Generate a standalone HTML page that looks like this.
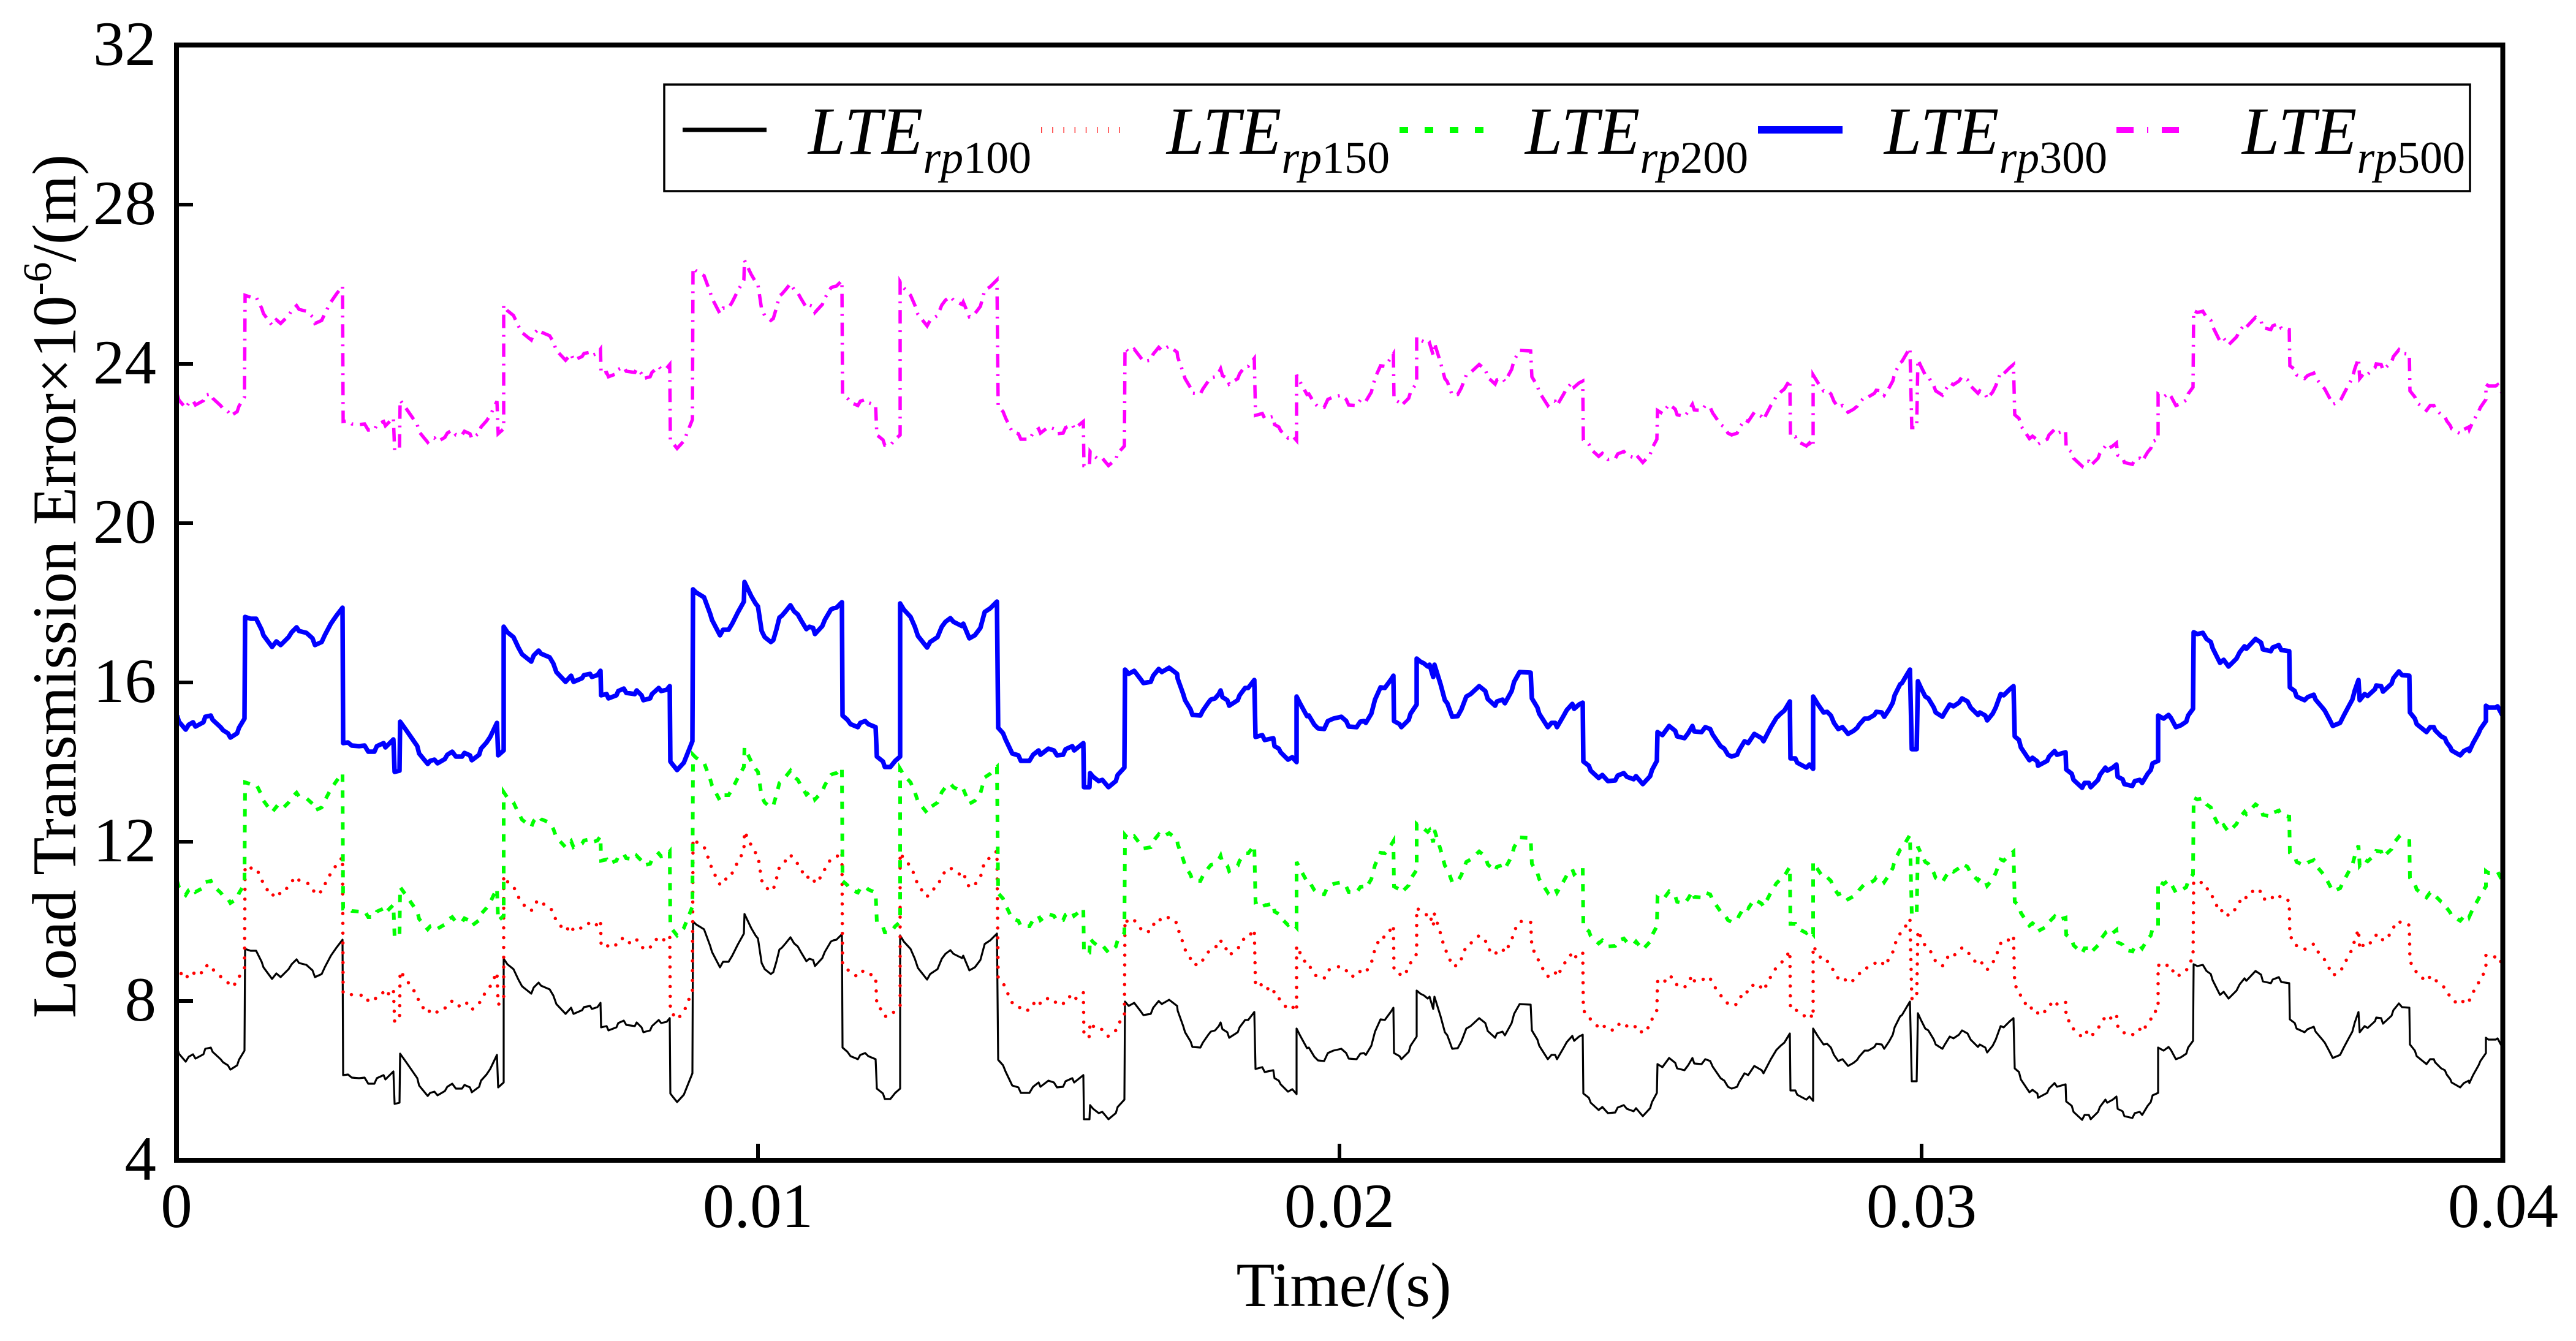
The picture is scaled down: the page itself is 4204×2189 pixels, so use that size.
<!DOCTYPE html>
<html>
<head>
<meta charset="utf-8">
<style>
html,body{margin:0;padding:0;background:#fff;}
svg{display:block;}
text{font-family:"Liberation Serif","Times New Roman",serif;fill:#000;}
</style>
</head>
<body>
<svg width="4204" height="2189" viewBox="0 0 4204 2189" xmlns="http://www.w3.org/2000/svg">
<rect x="0" y="0" width="4204" height="2189" fill="#fff"/>
<defs>
<polyline id="c" fill="none" points="289,1168 292,1178 303,1191 308,1183 315,1179 319,1186 332,1179 335,1170 344,1168 347,1175 360,1187 364,1192 372,1197 376,1204 387,1197 390,1188 399,1173 400,1007 409,1010 418,1010 427,1028 430,1037 444,1056 451,1047 458,1053 471,1040 476,1032 484,1024 488,1030 500,1033 510,1042 514,1053 525,1048 530,1037 540,1018 549,1005 559,992 560,1213 568,1212 574,1217 586,1218 595,1217 601,1227 611,1227 615,1218 626,1213 629,1220 642,1207 644,1260 652,1258 653,1178 663,1192 672,1205 681,1218 684,1230 698,1247 702,1242 709,1240 714,1246 726,1239 730,1232 738,1227 744,1235 754,1235 758,1229 767,1233 770,1241 782,1232 785,1222 794,1212 800,1203 811,1180 813,1233 822,1225 822,1023 828,1032 838,1040 846,1057 852,1068 867,1080 871,1070 879,1062 883,1067 897,1073 903,1083 908,1097 923,1113 932,1103 936,1113 950,1107 953,1102 963,1100 966,1105 975,1102 980,1095 981,1135 990,1133 993,1140 1006,1135 1009,1128 1018,1124 1022,1131 1036,1133 1039,1127 1047,1135 1050,1143 1061,1140 1064,1133 1075,1123 1079,1128 1088,1126 1093,1120 1094,1243 1097,1247 1105,1257 1116,1245 1120,1235 1130,1210 1131,962 1136,967 1149,975 1159,1002 1162,1012 1175,1037 1180,1028 1189,1028 1195,1018 1204,1000 1214,982 1215,950 1226,973 1233,985 1237,990 1243,1030 1248,1040 1258,1048 1262,1045 1267,1028 1272,1008 1276,1005 1282,998 1290,988 1296,998 1302,1003 1307,1012 1316,1027 1321,1023 1327,1025 1330,1035 1342,1022 1346,1012 1356,995 1360,993 1365,992 1374,983 1375,1168 1383,1175 1388,1182 1400,1187 1404,1180 1412,1177 1417,1182 1429,1187 1431,1235 1441,1243 1444,1252 1453,1252 1461,1242 1469,1235 1469,985 1475,995 1486,1007 1493,1023 1498,1038 1513,1057 1518,1048 1530,1040 1537,1023 1543,1015 1551,1009 1556,1015 1570,1022 1572,1018 1582,1042 1591,1037 1600,1025 1607,999 1616,993 1627,982 1629,1188 1637,1197 1641,1207 1652,1230 1662,1233 1666,1242 1680,1242 1686,1232 1695,1225 1698,1232 1711,1222 1720,1225 1725,1233 1735,1232 1739,1223 1750,1218 1753,1225 1768,1213 1769,1285 1778,1285 1779,1262 1784,1268 1793,1275 1799,1273 1809,1285 1821,1275 1824,1265 1835,1253 1836,1093 1842,1100 1851,1095 1861,1108 1866,1115 1878,1113 1882,1103 1891,1092 1896,1097 1908,1090 1921,1100 1922,1108 1931,1133 1934,1143 1943,1158 1946,1167 1959,1168 1963,1160 1972,1147 1976,1142 1983,1140 1989,1133 1992,1127 1995,1138 2003,1143 2006,1152 2020,1143 2023,1135 2032,1123 2037,1123 2047,1110 2049,1203 2060,1200 2064,1208 2078,1205 2080,1218 2087,1222 2090,1228 2102,1240 2109,1236 2116,1244 2116,1137 2121,1147 2133,1169 2136,1168 2145,1183 2151,1189 2161,1190 2167,1177 2176,1173 2189,1170 2197,1177 2201,1186 2214,1187 2220,1178 2226,1177 2229,1180 2238,1165 2244,1142 2253,1122 2260,1123 2271,1108 2274,1103 2275,1177 2284,1182 2287,1187 2299,1175 2302,1165 2312,1150 2312,1075 2318,1080 2324,1083 2330,1088 2333,1085 2339,1105 2341,1085 2351,1117 2358,1143 2362,1148 2370,1170 2379,1169 2385,1158 2393,1137 2400,1133 2414,1120 2424,1128 2428,1141 2440,1152 2443,1145 2452,1142 2456,1148 2467,1128 2471,1113 2480,1097 2498,1098 2500,1140 2509,1155 2512,1165 2526,1187 2532,1180 2538,1180 2541,1187 2552,1168 2557,1159 2566,1149 2569,1157 2577,1150 2583,1147 2584,1243 2593,1250 2596,1258 2609,1270 2615,1265 2624,1275 2636,1274 2640,1266 2650,1262 2655,1268 2666,1272 2670,1267 2681,1280 2693,1267 2696,1257 2704,1242 2705,1195 2713,1200 2724,1185 2734,1193 2737,1202 2749,1205 2755,1197 2762,1185 2765,1194 2777,1195 2783,1187 2791,1190 2795,1199 2808,1218 2814,1222 2820,1232 2826,1235 2835,1232 2838,1225 2847,1210 2853,1213 2863,1198 2875,1205 2878,1210 2890,1187 2899,1172 2906,1165 2912,1160 2921,1145 2922,1238 2930,1238 2933,1245 2948,1253 2953,1248 2959,1255 2959,1137 2967,1150 2976,1163 2982,1162 2988,1168 2993,1180 3000,1190 3007,1187 3016,1198 3025,1193 3031,1188 3034,1183 3043,1173 3049,1173 3059,1167 3062,1162 3071,1163 3075,1170 3083,1158 3089,1147 3092,1135 3101,1117 3104,1115 3111,1103 3117,1093 3120,1223 3128,1223 3130,1112 3135,1123 3142,1137 3147,1140 3156,1155 3159,1163 3170,1170 3174,1163 3182,1150 3188,1153 3197,1147 3202,1140 3211,1145 3216,1155 3228,1167 3231,1163 3240,1168 3243,1176 3252,1165 3257,1155 3265,1133 3270,1135 3280,1125 3286,1120 3288,1202 3295,1208 3298,1220 3312,1241 3317,1237 3325,1243 3326,1250 3341,1242 3344,1235 3353,1226 3357,1232 3371,1228 3372,1256 3381,1263 3384,1273 3398,1286 3402,1278 3409,1278 3412,1285 3424,1273 3427,1265 3436,1253 3439,1258 3448,1253 3454,1248 3456,1268 3464,1272 3467,1280 3480,1283 3484,1275 3492,1273 3496,1278 3505,1263 3510,1257 3513,1246 3522,1242 3522,1168 3531,1173 3539,1167 3543,1172 3551,1187 3559,1184 3568,1178 3571,1168 3579,1157 3580,1032 3586,1035 3595,1033 3601,1043 3608,1048 3611,1058 3623,1082 3629,1077 3637,1088 3650,1075 3655,1065 3663,1055 3666,1059 3681,1043 3690,1049 3693,1060 3706,1063 3709,1057 3719,1053 3723,1061 3736,1063 3737,1122 3745,1128 3748,1137 3761,1143 3766,1138 3776,1134 3779,1142 3790,1155 3794,1160 3802,1175 3807,1185 3819,1180 3825,1168 3833,1153 3839,1142 3843,1127 3849,1110 3851,1143 3859,1133 3864,1136 3876,1125 3878,1119 3886,1120 3889,1129 3903,1116 3906,1107 3915,1096 3920,1102 3932,1103 3933,1163 3941,1173 3944,1182 3960,1195 3966,1187 3972,1187 3974,1192 3984,1202 3990,1205 3993,1212 3999,1220 4001,1225 4015,1233 4021,1226 4029,1222 4030,1226 4036,1213 4045,1197 4048,1190 4057,1177 4057,1152 4061,1155 4073,1155 4076,1153 4084,1168"/>
</defs>

<!-- series -->
<use href="#c" transform="translate(0,542)" stroke="#000000" stroke-width="3.2" stroke-linejoin="round"/>
<use href="#c" transform="translate(0,407)" stroke="#ff0000" stroke-width="5.5" stroke-linecap="round" stroke-dasharray="0 16"/>
<use href="#c" transform="translate(0,270)" stroke="#00ff00" stroke-width="6" stroke-dasharray="12 14"/>
<use href="#c" stroke="#0000ff" stroke-width="7.5" stroke-linejoin="round"/>
<use href="#c" transform="translate(0,-525)" stroke="#ff00ff" stroke-width="5.5" stroke-dasharray="22 11 3 11"/>

<!-- ticks -->
<g stroke="#000" stroke-width="6">
<line x1="288" y1="334" x2="315" y2="334"/>
<line x1="288" y1="594" x2="315" y2="594"/>
<line x1="288" y1="854" x2="315" y2="854"/>
<line x1="288" y1="1114" x2="315" y2="1114"/>
<line x1="288" y1="1374" x2="315" y2="1374"/>
<line x1="288" y1="1634" x2="315" y2="1634"/>
<line x1="1237" y1="1894" x2="1237" y2="1867"/>
<line x1="2186" y1="1894" x2="2186" y2="1867"/>
<line x1="3136" y1="1894" x2="3136" y2="1867"/>
</g>

<!-- frame -->
<rect x="288" y="73.5" width="3796.5" height="1820.5" fill="none" stroke="#000" stroke-width="8"/>

<!-- y tick labels -->
<g font-size="103" text-anchor="end">
<text x="255" y="1926">4</text>
<text x="255" y="1666">8</text>
<text x="255" y="1406">12</text>
<text x="255" y="1146">16</text>
<text x="255" y="886">20</text>
<text x="255" y="626">24</text>
<text x="255" y="366">28</text>
<text x="255" y="106">32</text>
</g>

<!-- x tick labels -->
<g font-size="103" text-anchor="middle">
<text x="288" y="2003">0</text>
<text x="1237" y="2003">0.01</text>
<text x="2186" y="2003">0.02</text>
<text x="3136" y="2003">0.03</text>
<text x="4085" y="2003">0.04</text>
</g>

<!-- axis titles -->
<text x="2193" y="2132" font-size="103" text-anchor="middle">Time/(s)</text>
<text transform="translate(123,957) rotate(-90)" font-size="102" text-anchor="middle">Load Transmission Error×10<tspan font-size="66" dy="-40">-6</tspan><tspan dy="40">/(m)</tspan></text>

<!-- legend -->
<rect x="1084" y="138" width="2947" height="174" fill="#fff" stroke="#000" stroke-width="3.5"/>
<line x1="1114" y1="212" x2="1251" y2="212" stroke="#000" stroke-width="7"/>
<line x1="1699" y1="212" x2="1836" y2="212" stroke="#ff0000" stroke-width="10" stroke-dasharray="1.5 16.7" stroke-opacity="0.8"/>
<line x1="2284" y1="212" x2="2424" y2="212" stroke="#00ff00" stroke-width="10" stroke-dasharray="14 27"/>
<line x1="2869" y1="212" x2="3007" y2="212" stroke="#0000ff" stroke-width="12"/>
<line x1="3454" y1="212" x2="3578" y2="212" stroke="#ff00ff" stroke-width="10" stroke-dasharray="28 22 2 22"/>

<g font-size="110">
<text x="1319" y="251"><tspan font-style="italic">LTE</tspan><tspan font-size="74" dy="31"><tspan font-style="italic">rp</tspan>100</tspan></text>
<text x="1904" y="251"><tspan font-style="italic">LTE</tspan><tspan font-size="74" dy="31"><tspan font-style="italic">rp</tspan>150</tspan></text>
<text x="2489" y="251"><tspan font-style="italic">LTE</tspan><tspan font-size="74" dy="31"><tspan font-style="italic">rp</tspan>200</tspan></text>
<text x="3075" y="251"><tspan font-style="italic">LTE</tspan><tspan font-size="74" dy="31"><tspan font-style="italic">rp</tspan>300</tspan></text>
<text x="3659" y="251"><tspan font-style="italic">LTE</tspan><tspan font-size="74" dy="31"><tspan font-style="italic">rp</tspan>500</tspan></text>
</g>
</svg>
</body>
</html>
